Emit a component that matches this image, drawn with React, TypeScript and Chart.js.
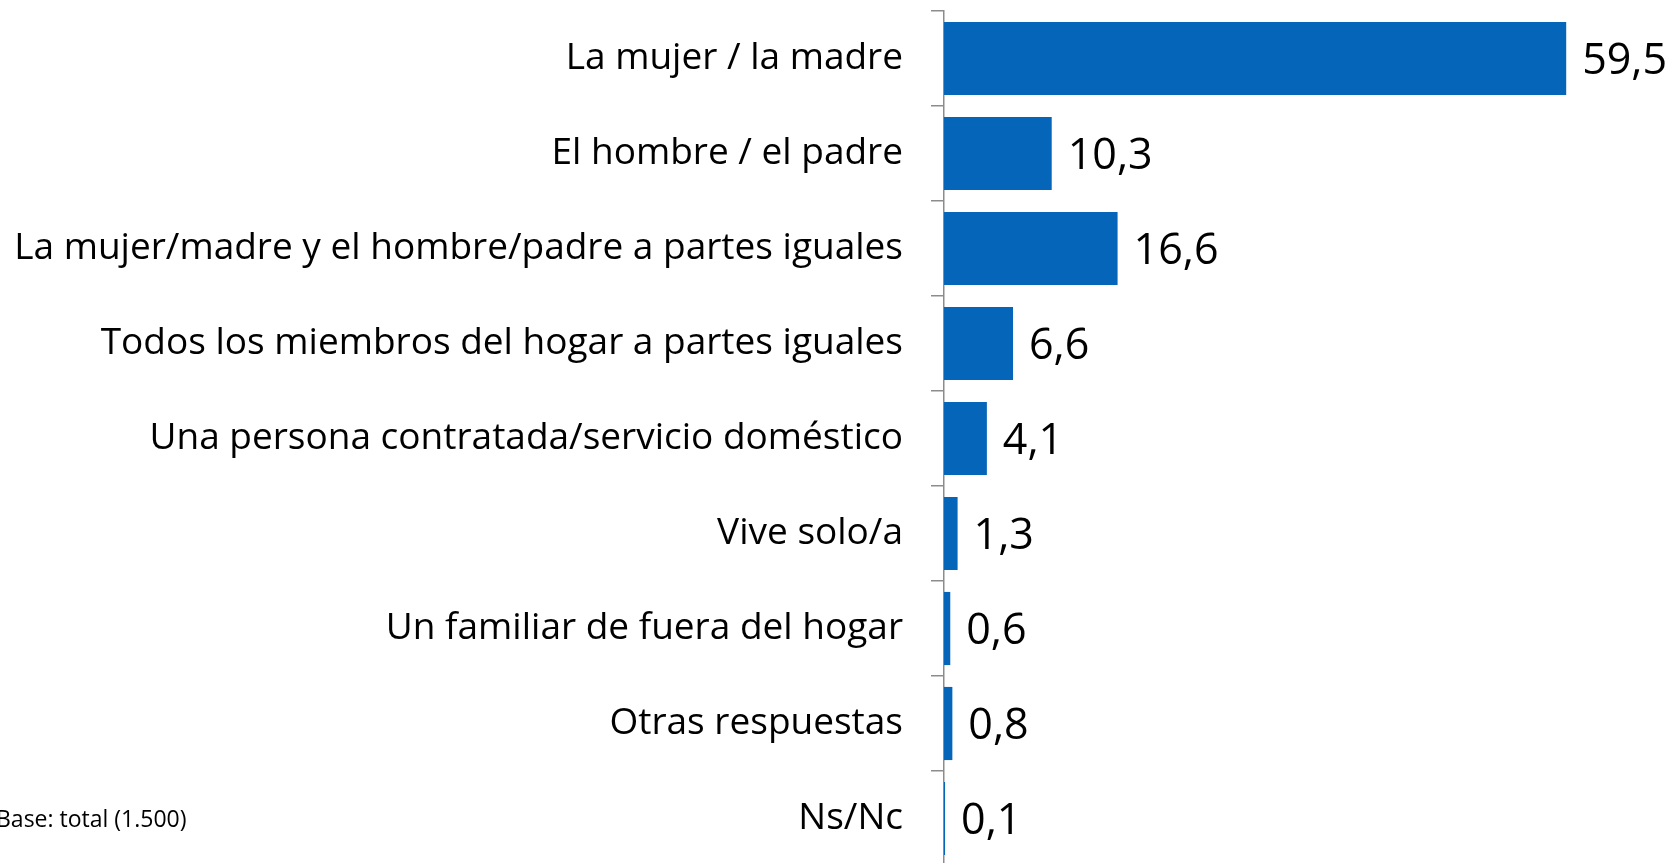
import React, { useEffect, useRef } from "react";
import { Chart, registerables } from "chart.js";

Chart.register(...registerables);

const categories = [
  "La mujer / la madre",
  "El hombre / el padre",
  "La mujer/madre y el hombre/padre a partes iguales",
  "Todos los miembros del hogar a partes iguales",
  "Una persona contratada/servicio doméstico",
  "Vive solo/a",
  "Un familiar de fuera del hogar",
  "Otras respuestas",
  "Ns/Nc",
];
const values = [59.5, 10.3, 16.6, 6.6, 4.1, 1.3, 0.6, 0.8, 0.1];
const baseNote = "Base: total (1.500)";

const FONT = "'Open Sans', 'Noto Sans', sans-serif";

const valueLabels = {
  id: "valueLabels",
  afterDatasetsDraw(chart: any) {
    const ctx = chart.ctx;
    const meta = chart.getDatasetMeta(0);
    ctx.save();
    ctx.font = `43px ${FONT}`;
    ctx.fillStyle = "#000";
    ctx.textAlign = "left";
    ctx.textBaseline = "middle";
    meta.data.forEach((bar: any, i: number) => {
      const txt = values[i].toFixed(1).replace(".", ",");
      ctx.fillText(txt, bar.x + 16, bar.y + 3);
    });
    ctx.restore();
  },
};

export default function App() {
  const ref = useRef<HTMLCanvasElement>(null);
  useEffect(() => {
    document.body.style.margin = "0";
    document.body.style.overflow = "hidden";
    const chart = new Chart(ref.current!, {
      type: "bar",
      data: {
        labels: categories,
        datasets: [
          {
            data: values,
            backgroundColor: "#0465B9",
            barPercentage: 0.77,
            categoryPercentage: 1,
          },
        ],
      },
      options: {
        indexAxis: "y",
        animation: false,
        responsive: false,
        layout: { padding: { top: 11, right: 4, bottom: 0, left: 0 } },
        plugins: { legend: { display: false }, tooltip: { enabled: false } },
        scales: {
          x: { display: false, min: 0, max: 70 },
          y: {
            afterFit(scale: any) {
              scale.width = 944;
              scale.paddingTop = 0;
              scale.paddingBottom = 0;
            },
            grid: {
              drawOnChartArea: false,
              drawTicks: true,
              tickLength: 13,
              color: "#8c8c8c",
              lineWidth: 1.5,
              offset: true,
            },
            border: { color: "#8c8c8c", width: 1.5 },
            ticks: {
              padding: 28,
              color: "#000",
              font: { family: FONT, size: 37 },
              autoSkip: false,
            },
          },
        },
      },
      plugins: [valueLabels],
    });
    return () => chart.destroy();
  }, []);
  return (
    <div style={{ position: "relative", width: 1680, height: 863, overflow: "hidden" }}>
      <canvas ref={ref} width={1680} height={866} style={{ display: "block" }} />
      <div
        style={{
          position: "absolute",
          left: -4,
          top: 802,
          fontFamily: FONT,
          fontSize: 23,
          color: "#000",
          whiteSpace: "nowrap",
        }}
      >
        {baseNote}
      </div>
    </div>
  );
}
